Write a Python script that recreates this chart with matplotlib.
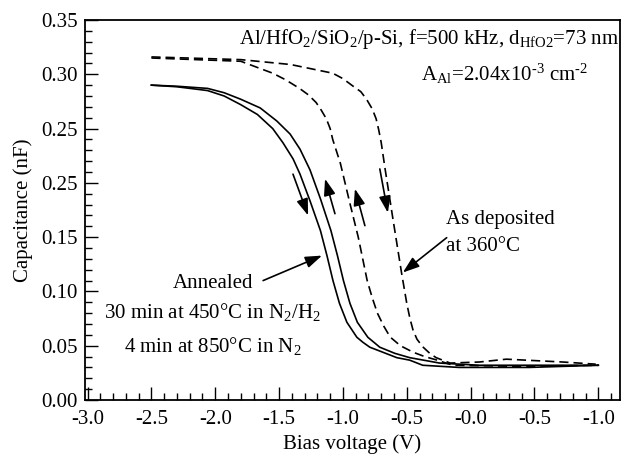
import matplotlib
matplotlib.use("Agg")
import matplotlib.pyplot as plt
from matplotlib.ticker import FixedLocator, FixedFormatter, MultipleLocator

plt.rcParams['font.family'] = ['Liberation Serif', 'DejaVu Serif']
plt.rcParams['mathtext.fontset'] = 'custom'
plt.rcParams['mathtext.rm'] = 'Liberation Serif'
plt.rcParams['mathtext.it'] = 'Liberation Serif:italic'

# Annealed, forward sweep (inner solid)
ann_fwd_v = [-2.50, -2.30, -2.06, -1.93, -1.80, -1.67, -1.55, -1.47, -1.39, -1.336, -1.258, -1.176,
             -1.125, -1.078, -1.027, -0.969, -0.891, -0.844, -0.789, -0.6875, -0.578, -0.477,
             -0.375, -0.09, 0.46, 1.00]
ann_fwd_c = [0.290, 0.2885, 0.285, 0.280, 0.272, 0.263, 0.250, 0.237, 0.222, 0.208, 0.1835, 0.156,
             0.133, 0.110, 0.089, 0.0716, 0.0578, 0.0532, 0.0486, 0.044, 0.039, 0.0367,
             0.032, 0.030, 0.030, 0.032]
# Annealed, reverse sweep (outer solid)
ann_rev_v = [-2.50, -2.30, -2.06, -1.93, -1.80, -1.648, -1.518, -1.414, -1.336, -1.258, -1.176,
             -1.094, -1.043, -0.996, -0.945, -0.887, -0.805, -0.711, -0.594, -0.477, -0.242,
             0.07, 1.00]
ann_rev_c = [0.290, 0.289, 0.287, 0.283, 0.277, 0.269, 0.257, 0.245, 0.231, 0.212, 0.1853,
             0.156, 0.133, 0.110, 0.089, 0.0716, 0.0578, 0.0486, 0.043, 0.039, 0.034,
             0.032, 0.032]
# As deposited, inner dashed
dep_a_v = [-2.50, -1.80, -1.55, -1.45, -1.34, -1.27, -1.21, -1.17, -1.13, -1.10, -1.08, -1.02,
           -0.945, -0.88, -0.81, -0.77, -0.73, -0.68, -0.63, -0.55, -0.45, -0.36, -0.27, -0.14,
           0.38, 1.00]
dep_a_c = [0.315, 0.312, 0.301, 0.295, 0.287, 0.281, 0.274, 0.267, 0.259, 0.250, 0.240, 0.218,
           0.181, 0.150, 0.110, 0.094, 0.080, 0.068, 0.058, 0.050, 0.044, 0.040, 0.037, 0.032,
           0.031, 0.032]
# As deposited, outer dashed
dep_b_v = [-2.50, -1.80, -1.41, -1.08, -1.00, -0.92, -0.86, -0.815, -0.77, -0.74, -0.72, -0.70,
           -0.67, -0.61, -0.54, -0.50, -0.475, -0.45, -0.42, -0.375, -0.32, -0.27, -0.16, 0.07,
           0.28, 0.72, 0.98]
dep_b_c = [0.316, 0.3135, 0.309, 0.301, 0.296, 0.289, 0.284, 0.277, 0.268, 0.259, 0.249, 0.237,
           0.213, 0.168, 0.1165, 0.089, 0.075, 0.064, 0.056, 0.049, 0.043, 0.039, 0.034, 0.035,
           0.0376, 0.035, 0.033]

x_ticks = [-3.0, -2.5, -2.0, -1.5, -1.0, -0.5, 0.0, 0.5, 1.0]
x_tick_labels = ["-3.0", "-2.5", "-2.0", "-1.5", "-1.0", "-0.5", "-0.0", "-0.5", "-1.0"]
y_ticks = [0.00, 0.05, 0.10, 0.15, 0.20, 0.25, 0.30, 0.35]
y_tick_labels = ["0.00", "0.05", "0.10", "0.15", "0.25", "0.25", "0.30", "0.35"]

fig = plt.figure(figsize=(6.22, 4.55), dpi=100)
ax = fig.add_axes([85/622, 55/455, 535/622, 380/455])

lw = 1.2
ax.plot(ann_fwd_v, ann_fwd_c, color='black', lw=lw)
ax.plot(ann_rev_v, ann_rev_c, color='black', lw=lw)
ax.plot(dep_a_v, dep_a_c, color='black', lw=lw, dashes=(5.5, 3))
ax.plot(dep_b_v, dep_b_c, color='black', lw=lw, dashes=(5.5, 3))

ax.set_xlim(-3.02, 1.17)
ax.set_ylim(0, 0.35)
ax.xaxis.set_major_locator(FixedLocator(x_ticks))
ax.xaxis.set_major_formatter(FixedFormatter(x_tick_labels))
ax.xaxis.set_minor_locator(MultipleLocator(0.1))
ax.yaxis.set_major_locator(FixedLocator(y_ticks))
ax.yaxis.set_major_formatter(FixedFormatter(y_tick_labels))
ax.yaxis.set_minor_locator(MultipleLocator(0.01))
ax.tick_params(which='both', direction='in', top=False, right=False, labelsize=15, width=1.0)
ax.tick_params(which='major', length=9.5)
ax.tick_params(which='minor', length=5)
ax.tick_params(axis='x', which='major', pad=7)
ax.tick_params(axis='y', which='major', pad=5)
for s in ax.spines.values():
    s.set_linewidth(1.3)

ax.set_xlabel("Bias voltage (V)", fontsize=15, labelpad=4)
ax.set_ylabel("Capacitance (nF)", fontsize=15, labelpad=6)

fs = 15
hy = "\u2010"
ax.text(1.165, 0.3325, r"Al/HfO$_\mathregular{2}$/SiO$_\mathregular{2}$/p-Si, f=500 kHz, d$_\mathregular{HfO2}$=73 nm",
        ha='right', va='center', fontsize=fs)
ax.text(0.92, 0.3, "A$_\\mathregular{Al}$=2.04x10$^\\mathregular{" + hy + "3}$ cm$^\\mathregular{" + hy + "2}$",
        ha='right', va='center', fontsize=fs)
ax.text(-2.02, 0.107, "Annealed", ha='center', va='center', fontsize=fs)
ax.text(-2.02, 0.081, r"30 min at 450°C in N$_\mathregular{2}$/H$_\mathregular{2}$", ha='center', va='center', fontsize=fs)
ax.text(-2.02, 0.050, r"4 min at 850°C in N$_\mathregular{2}$", ha='center', va='center', fontsize=fs)
ax.text(-0.19, 0.166, "As deposited", ha='left', va='center', fontsize=fs)
ax.text(-0.19, 0.141, "at 360°C", ha='left', va='center', fontsize=fs)

arrow_kw = dict(arrowstyle='-|>,head_length=1.0,head_width=0.35', color='black', lw=1.2,
                shrinkA=0, shrinkB=0)
# direction arrows
ax.annotate("", xy=(-1.273, 0.170), xytext=(-1.391, 0.208), arrowprops=arrow_kw)
ax.annotate("", xy=(-1.14, 0.2037), xytext=(-1.0625, 0.1716), arrowprops=arrow_kw)
ax.annotate("", xy=(-0.906, 0.1945), xytext=(-0.828, 0.1606), arrowprops=arrow_kw)
ax.annotate("", xy=(-0.648, 0.1725), xytext=(-0.711, 0.2128), arrowprops=arrow_kw)
# label arrows
ax.annotate("", xy=(-1.164, 0.133), xytext=(-1.625, 0.110), arrowprops=arrow_kw)
ax.annotate("", xy=(-0.531, 0.1174), xytext=(-0.1875, 0.1495), arrowprops=arrow_kw)

fig.savefig("out.png", dpi=100)
